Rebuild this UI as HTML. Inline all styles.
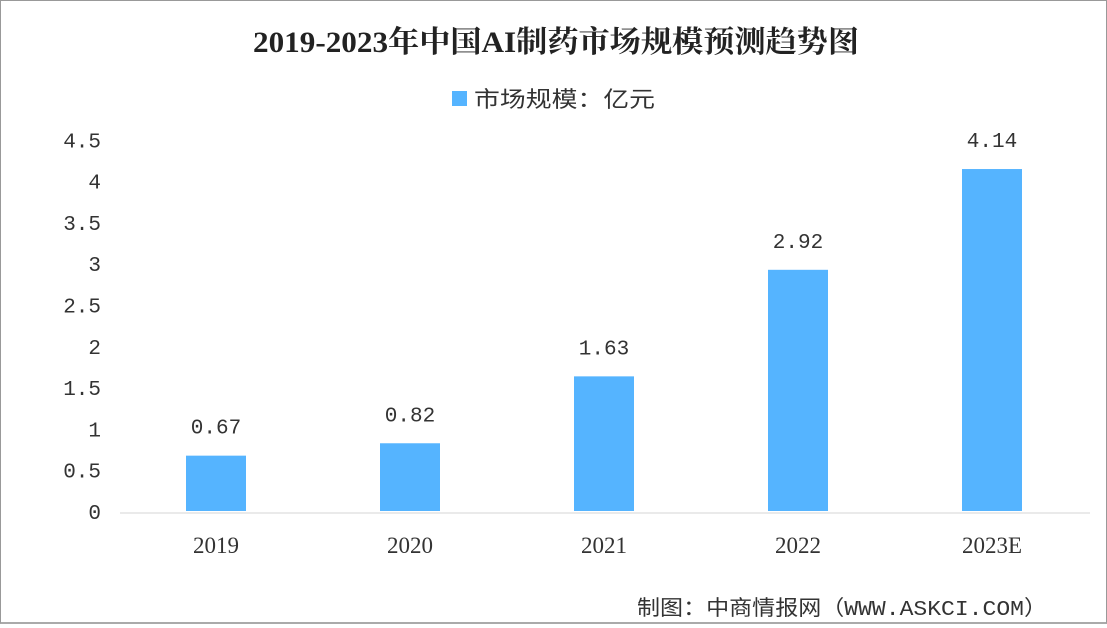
<!DOCTYPE html>
<html><head><meta charset="utf-8"><style>
body{margin:0;width:1107px;height:628px;background:#fff;overflow:hidden;font-family:"Liberation Serif","Noto Serif CJK SC",serif;}
#frame{position:absolute;left:0;top:0;width:1105px;height:621px;border:1px solid #999;border-bottom:2px solid #aaa;}
</style></head><body>
<div id="frame"></div>
<svg id="chart" width="1107" height="628" style="position:absolute;left:0;top:0">
<text x="556" y="52" text-anchor="middle" font-size="30" font-weight="bold" fill="#222" textLength="606" lengthAdjust="spacingAndGlyphs">2019-2023年中国AI制药市场规模预测趋势图</text>
<rect x="452" y="91" width="15" height="15" fill="#55b4ff"/>
<text x="474" y="107" font-size="22" fill="#333" textLength="181" lengthAdjust="spacingAndGlyphs" font-family="Liberation Mono,'Noto Sans CJK SC',sans-serif">市场规模：亿元</text>
<line x1="120" y1="513" x2="1090" y2="513" stroke="#e4e4e4" stroke-width="1.5"/>
<text x="637" y="615" font-size="21" fill="#333" textLength="410" lengthAdjust="spacingAndGlyphs" font-family="Liberation Mono,'Noto Sans CJK SC',sans-serif">制图：中商情报网（WWW.ASKCI.COM）</text>
</svg>
<script>
const categories=["2019","2020","2021","2022","2023E"];
const values=[0.67,0.82,1.63,2.92,4.14];
const valueLabels=["0.67","0.82","1.63","2.92","4.14"];
const yTicks=[0,0.5,1,1.5,2,2.5,3,3.5,4,4.5];
const yTickLabels=["0","0.5","1","1.5","2","2.5","3","3.5","4","4.5"];
const svg=document.getElementById('chart');
const NS='http://www.w3.org/2000/svg';
const y=v=>511-v*82.6;
const x=i=>216+i*194;
function mk(t,a){const e=document.createElementNS(NS,t);for(const k in a)e.setAttribute(k,a[k]);svg.appendChild(e);return e;}
yTicks.forEach((v,i)=>{
 const t=mk('text',{x:101,y:y(v)+8,'text-anchor':'end','font-size':21,fill:'#333','font-family':'Liberation Mono,monospace'});
 t.textContent=yTickLabels[i];
 
 
});
categories.forEach((c,i)=>{
 const b=mk('rect',{x:x(i)-30,y:y(values[i]),width:60,height:511-y(values[i]),fill:'#55b4ff'});
 
 
 const l=mk('text',{x:x(i),y:y(values[i])-22,'text-anchor':'middle','font-size':21,fill:'#333','font-family':'Liberation Mono,monospace'});
 l.textContent=valueLabels[i];
 
 
 const cl=mk('text',{x:x(i),y:553,'text-anchor':'middle','font-size':23,fill:'#333'});
 cl.textContent=c;
 
 
});
</script>
</body></html>
